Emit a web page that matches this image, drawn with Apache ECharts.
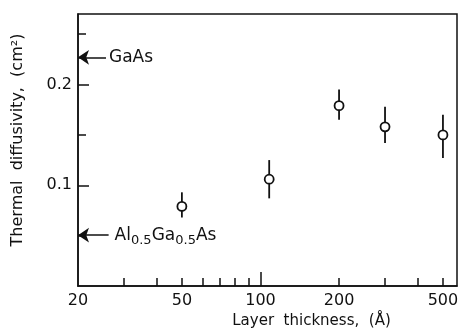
<!DOCTYPE html>
<html>
<head>
<meta charset="utf-8">
<script src="https://cdn.jsdelivr.net/npm/echarts@6/dist/echarts.min.js"></script>
<style>
  html, body { margin: 0; padding: 0; background: #fff; }
  #chart { width: 462px; height: 328px; }
</style>
</head>
<body>
<div id="chart"></div>
<script>
// layer thickness (Å) and measured diffusivity (cm^2/s)
const thickness = [50, 108, 200, 300, 500];
const diffusivity = [0.079, 0.106, 0.179, 0.158, 0.150];
const errLow = [0.068, 0.087, 0.165, 0.142, 0.127];
const errHigh = [0.093, 0.125, 0.195, 0.178, 0.170];

// tick positions
const xLabelTicks = [20, 50, 100, 200, 500];
const xMinorTicks = [30, 40, 50, 60, 70, 80, 90, 200, 300, 400, 500];
const xMajorTicks = [100];
const yLabelTicks = [0.1, 0.2];
const yMinorTicks = [0.05, 0.15, 0.25];

// reference values for bulk materials
const gaAsLevel = 0.227;
const alGaAsLevel = 0.0505;

const FONT = 'DejaVu Sans';
const INK = '#111';

const chart = echarts.init(document.getElementById('chart'));

const errData = thickness.map((t, i) => [t, errLow[i], errHigh[i]]);
const pointData = thickness.map((t, i) => [t, diffusivity[i]]);

const option = {
  animation: false,
  grid: {
    left: 78, right: 5, top: 14, bottom: 42,
    outerBoundsMode: 'none',
    containLabel: false,
    show: true,
    borderColor: INK,
    borderWidth: 1.5,
  },
  xAxis: [{
    type: 'log',
    logBase: 10,
    min: 20,
    max: 566,
    name: 'Layer  thickness,  (Å)',
    nameLocation: 'middle',
    nameGap: 24,
    nameTextStyle: { fontFamily: FONT, fontSize: 15, color: INK, padding: [0, 0, 0, 88] },
    axisLine: { lineStyle: { color: INK, width: 1.5 } },
    axisTick: { inside: true, length: 8, customValues: xMinorTicks, lineStyle: { color: INK, width: 1.5 } },
    axisLabel: { customValues: xLabelTicks, fontFamily: FONT, fontSize: 16, color: INK, margin: 7 },
    splitLine: { show: false },
    minorTick: { show: false },
  }, {
    type: 'log',
    logBase: 10,
    min: 20,
    max: 566,
    position: 'bottom',
    axisLine: { show: false },
    axisTick: { inside: true, length: 14, customValues: xMajorTicks, lineStyle: { color: INK, width: 1.5 } },
    axisLabel: { show: false },
    splitLine: { show: false },
  }],
  yAxis: [{
    type: 'value',
    min: 0,
    max: 0.27,
    name: 'Thermal  diffusivity,  (cm²)',
    nameLocation: 'middle',
    nameGap: 52,
    nameTextStyle: { fontFamily: FONT, fontSize: 16, color: INK, padding: [0, 0, 0, 20] },
    axisLine: { show: true, lineStyle: { color: INK, width: 1.5 } },
    axisTick: { show: true, inside: true, length: 11, customValues: yLabelTicks, lineStyle: { color: INK, width: 1.5 } },
    axisLabel: { customValues: yLabelTicks, fontFamily: FONT, fontSize: 16, color: INK, margin: 6 },
    splitLine: { show: false },
  }, {
    type: 'value',
    min: 0,
    max: 0.27,
    position: 'left',
    axisLine: { show: false },
    axisTick: { show: true, inside: true, length: 8, customValues: yMinorTicks, lineStyle: { color: INK, width: 1.5 } },
    axisLabel: { show: false },
    splitLine: { show: false },
  }],
  series: [{
    type: 'custom',
    xAxisIndex: 0,
    yAxisIndex: 0,
    data: errData,
    encode: { x: 0, y: [1, 2] },
    renderItem: function (params, api) {
      const x = api.value(0);
      const lo = api.coord([x, api.value(1)]);
      const hi = api.coord([x, api.value(2)]);
      return {
        type: 'line',
        shape: { x1: lo[0], y1: lo[1], x2: hi[0], y2: hi[1] },
        style: { stroke: INK, lineWidth: 1.8 },
      };
    },
    z: 2,
  }, {
    type: 'scatter',
    xAxisIndex: 0,
    yAxisIndex: 0,
    data: pointData,
    symbol: 'circle',
    symbolSize: 9,
    itemStyle: { color: '#fff', borderColor: INK, borderWidth: 1.8, opacity: 1 },
    z: 3,
    markLine: {
      silent: true,
      symbol: ['arrow', 'none'],
      symbolSize: 11,
      lineStyle: { color: INK, width: 1.5, type: 'solid' },
      label: {
        show: true,
        position: 'end',
        distance: 3,
        color: INK,
        fontFamily: FONT,
        fontSize: 16,
        formatter: p => p.name,
        rich: {
          sub: { fontFamily: FONT, fontSize: 13, color: INK, padding: [10, 0, 0, 0] },
          m: { fontFamily: FONT, fontSize: 17, color: INK },
        },
      },
      data: [
        [{ name: '{m|GaAs}', coord: [20, gaAsLevel] }, { coord: [25.6, gaAsLevel] }],
        [{ name: '{m|Al}{sub|0.5}{m|Ga}{sub|0.5}{m|As}', coord: [20, alGaAsLevel], label: { distance: 6 } },
         { coord: [26.2, alGaAsLevel] }],
      ],
    },
  }],
};

chart.setOption(option);
</script>
</body>
</html>
